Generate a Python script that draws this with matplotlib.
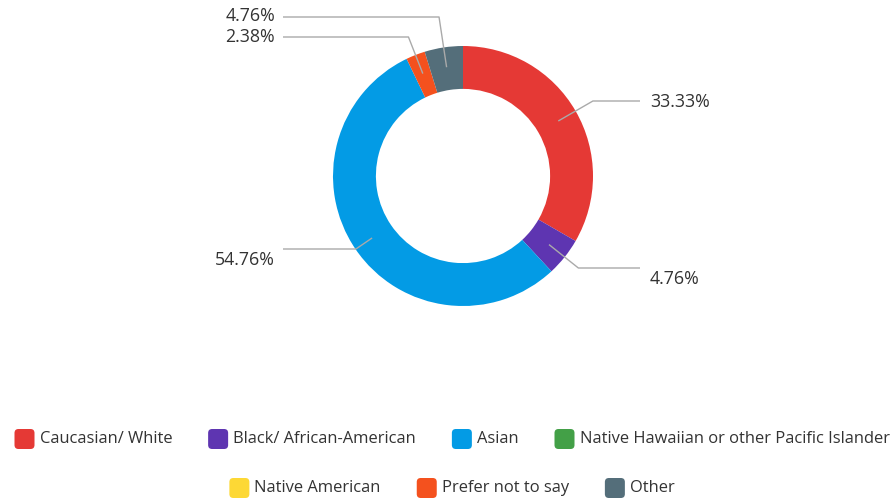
import matplotlib
matplotlib.use("Agg")
import matplotlib.pyplot as plt
from matplotlib.patches import FancyBboxPatch
import numpy as np

# ---- data ----
categories = ["Caucasian/ White", "Black/ African-American", "Asian",
              "Native Hawaiian or other Pacific Islander", "Native American",
              "Prefer not to say", "Other"]
percentages = [33.33, 4.76, 54.76, 0.0, 0.0, 2.38, 4.76]
colors = ["#E53935", "#5E35B1", "#039BE5", "#43A047", "#FDD835", "#F4511E", "#546E7A"]
legend_rows = [categories[:4], categories[4:]]

# ---- layout (pixels) ----
W, H = 896, 504
CX, CY, R = 463, 176, 130
RING = 0.33
ANCHOR_R = 110
TEXT_COLOR = "#333333"
LINE_COLOR = "#AAAAAA"
FONT = ["Open Sans", "DejaVu Sans"]
FS_LEG = 11.9
FS_LAB = 12.8
# side, leader-line y, text y
label_layout = {
    "Caucasian/ White": ("right", 101, 102),
    "Black/ African-American": ("right", 268, 279),
    "Asian": ("left", 249, 260),
    "Prefer not to say": ("left", 37, 37),
    "Other": ("left", 17, 16),
}
RIGHT_LINE_END, RIGHT_TEXT_X = 640, 650
LEFT_TEXT_X, LEFT_LINE_START = 275, 283

fig = plt.figure(figsize=(W / 100, H / 100), dpi=100)
ax = fig.add_axes([0, 0, 1, 1])

wedges, _ = ax.pie(percentages, colors=colors, startangle=-90, counterclock=True,
                   center=(CX, CY), radius=R, frame=True,
                   wedgeprops=dict(width=R * RING, linewidth=0))
ax.set_xlim(0, W)
ax.set_ylim(H, 0)
ax.set_aspect("equal")
ax.axis("off")

for w, cat, pct in zip(wedges, categories, percentages):
    if pct <= 0:
        continue
    side, ly, ty = label_layout[cat]
    th = np.deg2rad((w.theta1 + w.theta2) / 2)
    px, py = CX + ANCHOR_R * np.cos(th), CY + ANCHOR_R * np.sin(th)
    t = (ly - CY) / np.sin(th)
    ex = CX + t * np.cos(th)
    if side == "right":
        xs = [px, ex, RIGHT_LINE_END]
        ax.text(RIGHT_TEXT_X, ty, f"{pct:.2f}%", ha="left", va="center",
                fontsize=FS_LAB, color=TEXT_COLOR, family=FONT)
    else:
        xs = [px, ex, LEFT_LINE_START]
        ax.text(LEFT_TEXT_X, ty, f"{pct:.2f}%", ha="right", va="center",
                fontsize=FS_LAB, color=TEXT_COLOR, family=FONT)
    ax.plot(xs, [py, ly, ly], color=LINE_COLOR, lw=1.0, solid_capstyle="butt")

# ---- legend ----
SQ = 20
GAP_SQ_TEXT = 5
GAP_ITEM = 36
ROW_Y = [439, 488]
LEG_CENTER = 452
fig.canvas.draw()
renderer = fig.canvas.get_renderer()
color_of = dict(zip(categories, colors))
for row, ry in zip(legend_rows, ROW_Y):
    texts = []
    widths = []
    for cat in row:
        t = ax.text(0, ry, cat, ha="left", va="center", fontsize=FS_LEG,
                    color=TEXT_COLOR, family=FONT)
        bb = t.get_window_extent(renderer)
        texts.append(t)
        widths.append(bb.width)
    total = sum(SQ + GAP_SQ_TEXT + w for w in widths) + GAP_ITEM * (len(row) - 1)
    x = LEG_CENTER - total / 2
    for cat, t, w in zip(row, texts, widths):
        box = FancyBboxPatch((x, ry - SQ / 2), SQ, SQ,
                             boxstyle="round,pad=0,rounding_size=4",
                             facecolor=color_of[cat], edgecolor="none")
        ax.add_patch(box)
        t.set_x(x + SQ + GAP_SQ_TEXT)
        x += SQ + GAP_SQ_TEXT + w + GAP_ITEM

fig.savefig("out.png", dpi=100, facecolor="white")
